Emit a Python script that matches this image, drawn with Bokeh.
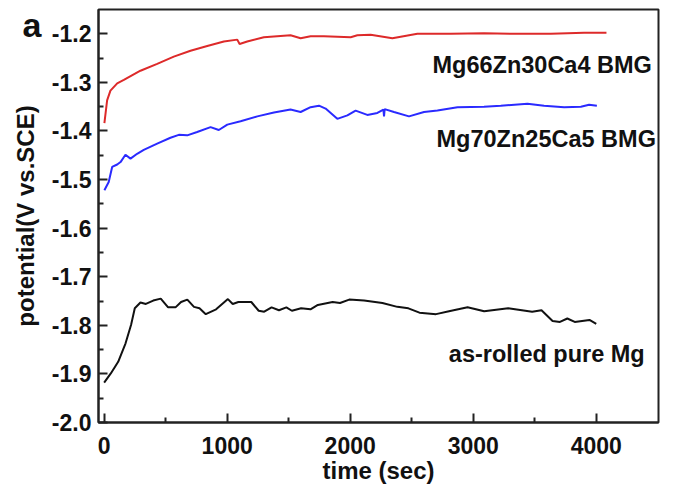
from bokeh.plotting import figure
from bokeh.models import Range1d, FixedTicker, PrintfTickFormatter, Label, LinearAxis
from bokeh.embed import file_html
from bokeh.resources import INLINE

# Mg66Zn30Ca4 BMG (red)
red_t = [2, 24, 51, 106, 160, 295, 431, 566, 702, 838, 973, 1082, 1101, 1163, 1298, 1515,
         1597, 1678, 1786, 2004, 2058, 2166, 2343, 2546, 2817, 3088, 3360, 3631, 3901, 4083]
red_v = [-1.384, -1.337, -1.317, -1.302, -1.295, -1.276, -1.262, -1.247, -1.235, -1.225,
         -1.216, -1.212, -1.221, -1.216, -1.207, -1.203, -1.209, -1.205, -1.205, -1.207,
         -1.203, -1.202, -1.209, -1.200, -1.200, -1.199, -1.200, -1.200, -1.198, -1.198]

# Mg70Zn25Ca5 BMG (blue)
blue_t = [2, 37, 65, 106, 133, 173, 214, 268, 322, 431, 539, 607, 675, 756, 865, 932, 1001,
          1109, 1245, 1380, 1515, 1597, 1678, 1746, 1800, 1895, 1977, 2044, 2139, 2221, 2270,
          2275, 2280, 2356, 2478, 2600, 2709, 2872, 3088, 3224, 3441, 3576, 3739, 3875, 3942, 4005]
blue_v = [-1.522, -1.505, -1.474, -1.469, -1.464, -1.449, -1.457, -1.447, -1.439, -1.426,
          -1.414, -1.408, -1.409, -1.402, -1.392, -1.398, -1.387, -1.380, -1.370, -1.362,
          -1.356, -1.361, -1.351, -1.348, -1.354, -1.375, -1.368, -1.358, -1.367, -1.363,
          -1.356, -1.370, -1.355, -1.361, -1.370, -1.361, -1.358, -1.351, -1.350, -1.348,
          -1.344, -1.348, -1.351, -1.350, -1.346, -1.348]

# as-rolled pure Mg (black)
black_t = [0, 54, 114, 174, 219, 249, 295, 339, 399, 460, 520, 580, 625, 676, 730, 775, 826,
           910, 1006, 1045, 1091, 1196, 1256, 1301, 1361, 1421, 1481, 1526, 1601, 1677, 1737,
           1857, 1917, 1992, 2113, 2262, 2383, 2473, 2563, 2698, 2803, 2954, 3089, 3284, 3479,
           3555, 3645, 3705, 3765, 3825, 3945, 4000]
black_v = [-1.918, -1.899, -1.875, -1.837, -1.799, -1.765, -1.753, -1.756, -1.749, -1.745,
           -1.763, -1.763, -1.752, -1.747, -1.762, -1.765, -1.777, -1.767, -1.746, -1.756,
           -1.752, -1.752, -1.770, -1.772, -1.763, -1.769, -1.763, -1.770, -1.765, -1.767,
           -1.758, -1.752, -1.754, -1.747, -1.749, -1.754, -1.762, -1.765, -1.774, -1.777,
           -1.771, -1.763, -1.771, -1.765, -1.772, -1.769, -1.791, -1.793, -1.786, -1.793,
           -1.789, -1.797]

x_ticks = [0, 1000, 2000, 3000, 4000]
x_minor = [500, 1500, 2500, 3500]
y_ticks = [-2.0, -1.9, -1.8, -1.7, -1.6, -1.5, -1.4, -1.3, -1.2]
y_minor = [-1.95, -1.85, -1.75, -1.65, -1.55, -1.45, -1.35, -1.25]

series_names = ["Mg66Zn30Ca4 BMG", "Mg70Zn25Ca5 BMG", "as-rolled pure Mg"]
panel_letter = "a"

FONT = "Liberation Sans"

p = figure(width=674, height=488, output_backend="svg", toolbar_location=None,
           x_range=Range1d(-46, 4506), y_range=Range1d(-2.0, -1.15))
p.min_border_left = 98
p.min_border_right = 16
p.min_border_top = 9
p.min_border_bottom = 66
p.background_fill_color = "white"
p.border_fill_color = "white"
p.outline_line_color = "#222222"
p.outline_line_width = 2
p.xgrid.visible = False
p.ygrid.visible = False

p.line(red_t, red_v, line_color="#dd2a2a", line_width=2)
p.line(blue_t, blue_v, line_color="#2a2aff", line_width=2)
p.line(black_t, black_v, line_color="#111111", line_width=2)

for ax in (p.xaxis[0], p.yaxis[0]):
    ax.axis_line_width = 2
    ax.axis_line_color = "#222222"
    ax.major_tick_in = 9
    ax.major_tick_out = 0
    ax.minor_tick_in = 5
    ax.minor_tick_out = 0
    ax.major_tick_line_width = 2
    ax.minor_tick_line_width = 2
    ax.major_tick_line_color = "#222222"
    ax.minor_tick_line_color = "#222222"
    ax.major_label_text_font = FONT
    ax.major_label_text_font_style = "bold"
    ax.major_label_text_font_size = "23px"
    ax.major_label_text_color = "#111111"
    ax.axis_label_text_font = FONT
    ax.axis_label_text_font_style = "bold"
    ax.axis_label_text_font_size = "24px"
    ax.axis_label_text_color = "#111111"

p.xaxis[0].ticker = FixedTicker(ticks=x_ticks, minor_ticks=x_minor)
p.yaxis[0].ticker = FixedTicker(ticks=y_ticks, minor_ticks=y_minor)
p.yaxis[0].formatter = PrintfTickFormatter(format="%.1f")
p.xaxis[0].axis_label = "time (sec)"
p.yaxis[0].axis_label = "potential(V vs.SCE)"
p.xaxis[0].major_label_standoff = 14
p.xaxis[0].axis_label_standoff = 0
p.yaxis[0].major_label_standoff = 7
p.yaxis[0].axis_label_standoff = 10

label_specs = [(4452, -1.265), (4485, -1.416), (4394, -1.859)]
for name, (lx, ly) in zip(series_names, label_specs):
    p.add_layout(Label(x=lx, y=ly, text=name, text_align="right", text_baseline="alphabetic",
                       text_font=FONT, text_font_style="bold", text_font_size="23.5px",
                       text_color="#111111"))

# panel letter drawn as the single label of an extra, line-less outer axis
letter_axis = LinearAxis(ticker=FixedTicker(ticks=[-1.181], minor_ticks=[]),
                         major_label_overrides={-1.181: panel_letter},
                         axis_line_color=None, major_tick_line_color=None,
                         minor_tick_line_color=None, major_label_standoff=-39,
                         major_label_text_font=FONT, major_label_text_font_style="bold",
                         major_label_text_font_size="34px", major_label_text_color="#111111")
p.add_layout(letter_axis, "left")

open("out.html", "w").write(file_html(p, INLINE))
